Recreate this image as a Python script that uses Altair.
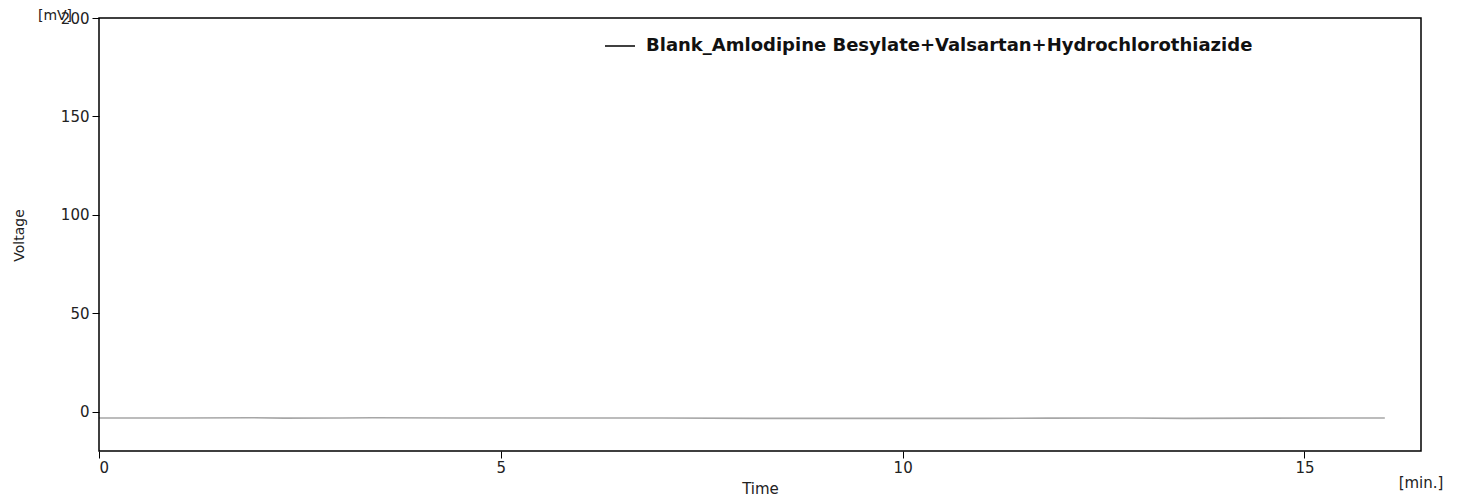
import altair as alt
import pandas as pd

# Chromatogram trace (blank): essentially flat baseline
time_min = [0.0, 1.0, 1.9, 2.3, 3.0, 3.4, 4.5, 5.0, 6.0, 7.0, 8.2, 9.0, 10.0, 11.0, 11.8, 12.8, 13.5, 14.5, 15.5, 16.0]
voltage_mv = [-3.2, -3.2, -3.1, -3.3, -3.2, -3.1, -3.2, -3.2, -3.2, -3.2, -3.4, -3.4, -3.4, -3.4, -3.3, -3.2, -3.4, -3.3, -3.2, -3.2]
series_name = "Blank_Amlodipine Besylate+Valsartan+Hydrochlorothiazide"

x_ticks = [0, 5, 10, 15]
y_ticks = [0, 50, 100, 150, 200]

df = pd.DataFrame({"Time": time_min, "Voltage": voltage_mv, "series": series_name})

FONT = "DejaVu Sans"

line = alt.Chart(df).mark_line(strokeWidth=1.6, opacity=0.35, clip=True).encode(
    x=alt.X("Time:Q", scale=alt.Scale(domain=[0, 16.45], nice=False, zero=False),
            axis=alt.Axis(values=x_ticks, title="Time", titleX=661, titleY=30,
                          titleFontWeight="normal", titleFontSize=15, titleFont=FONT,
                          titleColor="#222",
                          labelFontSize=15, labelFont=FONT, labelColor="#222",
                          tickSize=7, tickColor="black", labelPadding=2,
                          domain=False, grid=False, format="d")),
    y=alt.Y("Voltage:Q", scale=alt.Scale(domain=[-20, 200], nice=False, zero=False),
            axis=alt.Axis(values=y_ticks, title="Voltage", titleX=-80, titleY=217,
                          titleBaseline="middle",
                          titleFontWeight="normal", titleFontSize=14, titleFont=FONT,
                          titleColor="#222",
                          labelFontSize=15, labelFont=FONT, labelColor="#222",
                          tickSize=7, tickColor="black", labelPadding=3,
                          domain=False, grid=False, format="d")),
    color=alt.Color("series:N", scale=alt.Scale(range=["#000000"]),
                    legend=alt.Legend(title=None, orient="none", legendX=505, legendY=12,
                                      symbolType="stroke", symbolSize=900, symbolStrokeWidth=1.5,
                                      symbolOpacity=1, labelFont=FONT, labelFontSize=18,
                                      labelFontWeight="bold", labelColor="#111", labelOffset=10,
                                      labelLimit=0)),
)

unit_y = alt.Chart(pd.DataFrame({"t": ["[mV]"]})).mark_text(
    font=FONT, fontSize=14, color="#222", align="center", baseline="middle"
).encode(text="t:N", x=alt.value(-44), y=alt.value(-2))

unit_x = alt.Chart(pd.DataFrame({"t": ["[min.]"]})).mark_text(
    font=FONT, fontSize=15, color="#222", align="center", baseline="middle"
).encode(text="t:N", x=alt.value(1322), y=alt.value(465))

chart = alt.layer(line, unit_y, unit_x).properties(
    width=1322, height=433,
    autosize=alt.AutoSizeParams(type="none"),
    padding={"left": 91, "top": 10, "right": 30, "bottom": 50},
    background="white",
).configure_view(stroke="black", strokeWidth=1.5)

chart.save("out.html", embed_options={"renderer": "svg", "actions": False})
